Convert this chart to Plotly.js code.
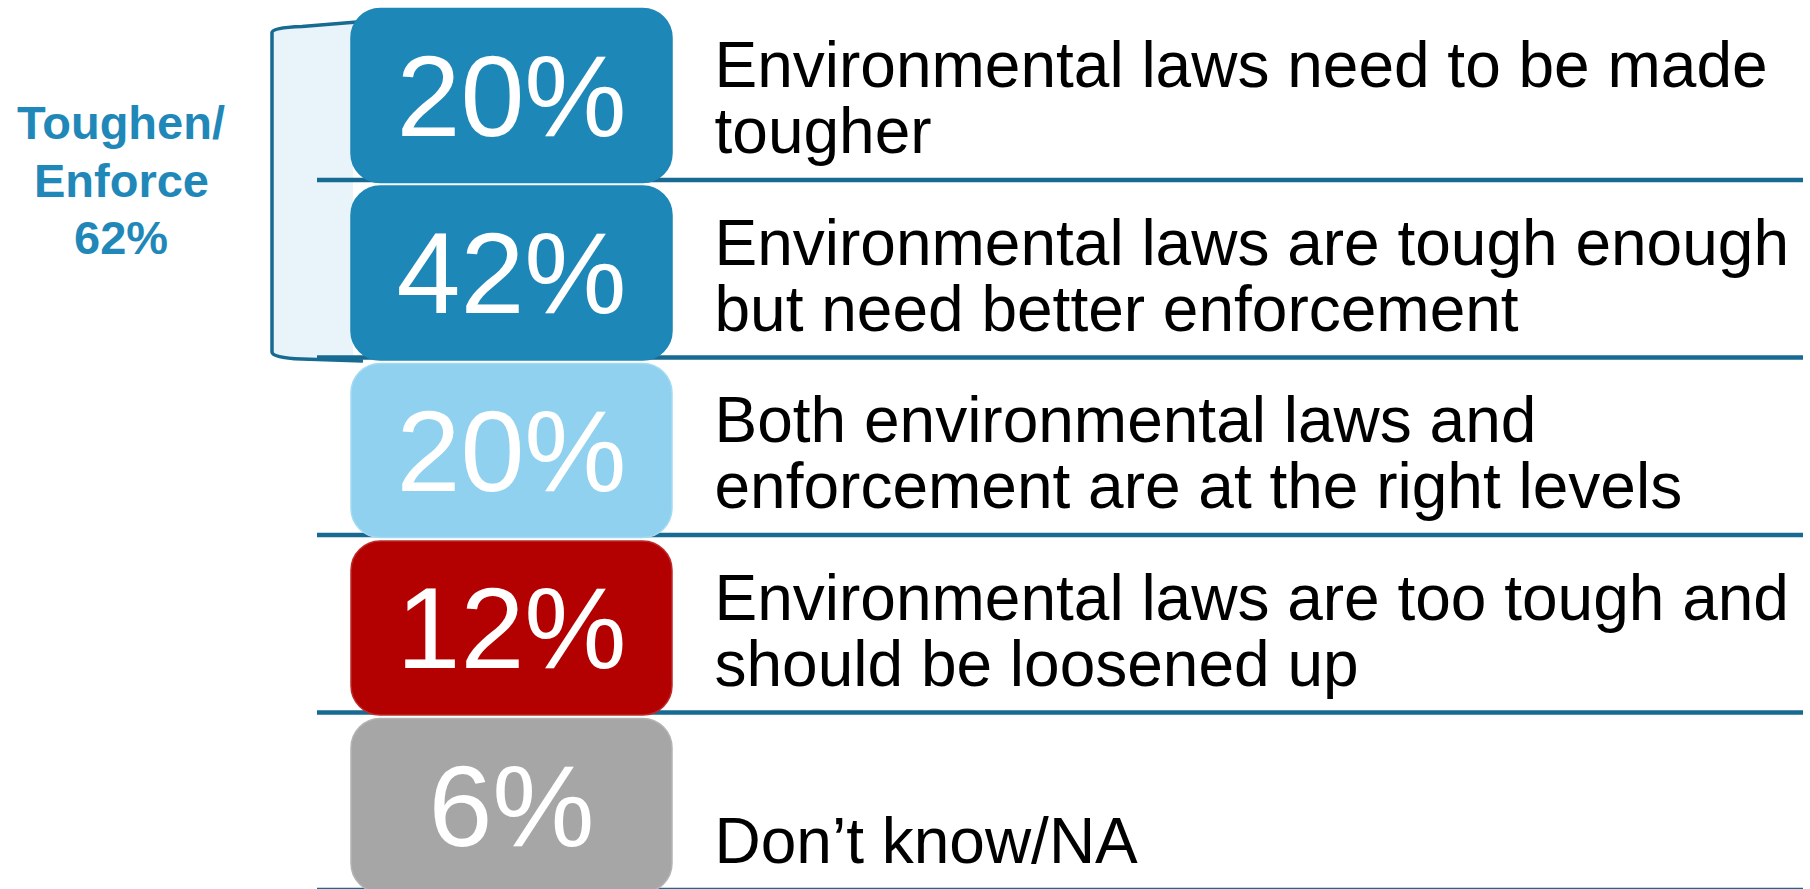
<!DOCTYPE html>
<html><head><meta charset="utf-8">
<script src="https://cdn.plot.ly/plotly-3.0.1.min.js"></script>
<style>html,body{margin:0;padding:0;background:#fff;overflow:hidden}#chart{width:1810px;height:889px}</style>
</head><body><div id="chart"></div>
<script>
// ---- data ----
const categories = ["Tougher laws", "Better enforcement", "Right levels", "Too tough", "Don't know/NA"];
const values = [20, 42, 20, 12, 6];
const labelLines = [
  ["Environmental laws need to be made", "tougher"],
  ["Environmental laws are tough enough", "but need better enforcement"],
  ["Both environmental laws and", "enforcement are at the right levels"],
  ["Environmental laws are too tough and", "should be loosened up"],
  ["", "Don\u2019t know/NA"]
];
const groupLabel = ["Toughen/", "Enforce"];
const groupMembers = [0, 1];

// ---- style ----
const boxColors = ["#1d87b7", "#1d87b7", "#8fd1ef", "#b30000", "#a6a6a6"];
const boxEdges  = ["#1d87b7", "#1d87b7", "#a4daf2", "#bd2a2a", "#b4b4b4"];
const FONT = "Liberation Sans, Arial, Helvetica, sans-serif";
const PX_X = 321;     // pixels per x unit (box width)
const PX_Y = 177.5;   // pixels per row
const n = categories.length;
const rows = categories.map((c, i) => n - 1 - i);   // y of row's bottom rule
const sum = groupMembers.reduce((s, i) => s + values[i], 0);

const boxTrace = {
  type: "bar",
  x: categories.map(() => 0),
  base: rows.map(r => r - 2.5 / PX_Y),
  y: rows.map(() => 174 / PX_Y),
  width: categories.map(() => 1),
  text: values.map(v => v + "%"),
  textposition: "inside",
  insidetextanchor: "middle",
  textangle: 0,
  constraintext: "none",
  textfont: {family: FONT, size: 115, color: "#ffffff"},
  marker: {color: boxColors, line: {color: boxEdges, width: 1.5}, cornerradius: 30},
  hoverinfo: "skip",
  showlegend: false
};

const LABEL_X = 203 / PX_X;
const lineOffsets = [109 / PX_Y, 43 / PX_Y];
const labelTraces = [0, 1].map(j => ({
  type: "scatter",
  mode: "text",
  x: categories.map(() => LABEL_X),
  y: rows.map(r => r + lineOffsets[j]),
  text: labelLines.map(l => l[j]),
  textposition: "middle right",
  textfont: {family: FONT, size: 64, color: "#000000"},
  hoverinfo: "skip",
  showlegend: false,
  cliponaxis: false
}));

// rules
const RULE_X0 = -194.5 / PX_X, RULE_X1 = 1291.5 / PX_X;
const shapes = [];

// bracket for group
const yTop = rows[groupMembers[0]] + 1;
const yBot = rows[groupMembers[groupMembers.length - 1]];
const bL = -239.5 / PX_X;
const xr = v => (v / PX_X);   // px offset -> x units
const yr = v => (v / PX_Y);   // px offset -> y units
const bxA = bL, bxC = bL + xr(30), bxTopEnd = -0.5 + xr(6), bxBotEnd = -0.5 + xr(12);
const yT1 = yTop - yr(30), yT0 = yTop - yr(24), yTE = yTop - yr(19.5);
const yB1 = yBot + yr(5.5), yB0 = yBot - yr(1.5), yBE = yBot - yr(3.5);
const bracketFill = `M ${bxTopEnd},${yTE} L ${bxC},${yT0} Q ${bxA},${yT0 - yr(1)} ${bxA},${yT1} L ${bxA},${yB1} Q ${bxA},${yB0 + yr(1)} ${bxC},${yB0} L ${bxBotEnd},${yBE} L ${-0.5 + xr(2)},${yBE} L ${-0.5 + xr(2)},${yTE} Z`;
const bracketLine = `M ${bxTopEnd},${yTE} L ${bxC},${yT0} Q ${bxA},${yT0 - yr(1)} ${bxA},${yT1} L ${bxA},${yB1} Q ${bxA},${yB0 + yr(1)} ${bxC},${yB0} L ${bxBotEnd},${yBE}`;
shapes.push({type: "path", path: bracketFill, xref: "x", yref: "y", fillcolor: "#e8f4fa", line: {width: 0}, layer: "below"});
shapes.push({type: "path", path: bracketLine, xref: "x", yref: "y", fillcolor: "rgba(0,0,0,0)", line: {color: "#176a91", width: 3.5}, layer: "below"});

rows.forEach(r => shapes.push({
  type: "line", xref: "x", yref: "y", x0: RULE_X0, x1: RULE_X1, y0: r, y1: r,
  line: {color: "#176a91", width: 4.5}, layer: "below"
}));

const groupLines = [...groupLabel, sum + "%"];
const annotations = groupLines.map((t, k) => ({
  xref: "x", yref: "y", x: bL - 151 / PX_X, y: rows[groupMembers[0]] + (1 - k) * 57.5 / PX_Y,
  text: "<b>" + t + "</b>",
  showarrow: false, xanchor: "center", yanchor: "middle", align: "center",
  font: {family: FONT, size: 47, color: "#1f88b9"}
}));

const layout = {
  width: 1810, height: 889,
  margin: {l: 0, r: 0, t: 0, b: 0, pad: 0},
  paper_bgcolor: "#ffffff", plot_bgcolor: "#ffffff",
  xaxis: {range: [-511.5 / PX_X, 1298.5 / PX_X], visible: false, fixedrange: true},
  yaxis: {range: [(890 - 889) / PX_Y, 890 / PX_Y], visible: false, fixedrange: true},
  bargap: 0, showlegend: false,
  shapes: shapes, annotations: annotations
};

Plotly.newPlot("chart", [boxTrace, ...labelTraces], layout, {staticPlot: true, displayModeBar: false});
</script></body></html>
